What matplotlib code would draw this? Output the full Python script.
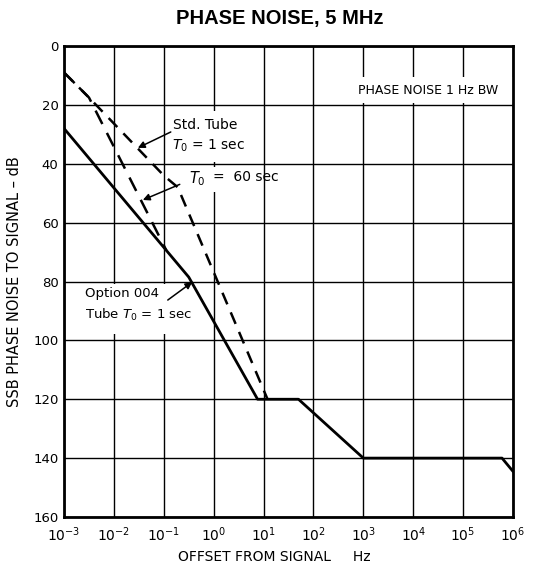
import matplotlib
matplotlib.use("Agg")
import matplotlib.pyplot as plt
from matplotlib.patches import Rectangle

plt.rcParams['font.family'] = ['DejaVu Sans']

# offsets in log10(Hz), noise in dB below carrier
opt004_logf = [-3, -0.5, 0.88, 1.7, 3, 5.78, 6]
opt004_db = [28, 78.5, 120, 120, 140, 140, 144.5]

std_logf = [-3, -2.5, -1, -0.72, 1.08]
std_db = [9, 17.5, 44, 48, 120]

t60_logf = [-3, -2.5, -0.95]
t60_db = [9, 17.5, 69.4]

y_ticks = [0, 20, 40, 60, 80, 100, 120, 140, 160]
x_decades = list(range(-3, 7))


def hz(logs):
    return [10.0 ** v for v in logs]


fig = plt.figure(figsize=(5.38, 5.71), dpi=100)
ax = fig.add_axes([0.119, 0.0946, 0.8345, 0.8248])

ax.set_xscale('log')
ax.set_xlim(1e-3, 1e6)
ax.set_ylim(160, 0)
ax.set_xticks(hz(x_decades))
ax.xaxis.set_minor_locator(matplotlib.ticker.NullLocator())
ax.set_yticks(y_ticks)
ax.grid(True, color='black', lw=1.0)
ax.tick_params(axis='y', length=0, labelsize=9.5, pad=4)
ax.tick_params(axis='x', length=0, labelsize=10, pad=6)
for sp in ax.spines.values():
    sp.set_linewidth(2)

# white label boxes hiding the grid
for (x0, x1, y0, y1) in [(2.5, 6, 10.5, 19.3), (-0.9, 0.6, 22, 39.3),
                         (-0.6, 0.9, 41, 49.5), (-2.65, -0.65, 80.7, 98)]:
    ax.add_patch(Rectangle((10 ** x0, y0), 10 ** x1 - 10 ** x0, y1 - y0,
                           facecolor='white', edgecolor='none', zorder=1.7))

ax.plot(hz(opt004_logf), opt004_db, color='black', lw=2, zorder=3)
ax.plot(hz(std_logf), std_db, color='black', lw=1.8, dashes=(5, 3.5), zorder=3)
ax.plot(hz(t60_logf), t60_db, color='black', lw=1.8, dashes=(6, 4), zorder=3)

ax.text(10 ** 4.29, 15, 'PHASE NOISE 1 Hz BW', fontsize=9, ha='center',
        va='center', zorder=4)
ax.text(10 ** -0.82, 27, 'Std. Tube', fontsize=10, ha='left', va='center', zorder=4)
ax.text(10 ** -0.84, 34, '$T_0$ = 1 sec', fontsize=10, ha='left', va='center', zorder=4)
ax.text(10 ** -0.5, 45, '$T_0$', fontsize=10.5, ha='left', va='center', zorder=4)
ax.text(10 ** -0.02, 44.5, '=  60 sec', fontsize=10, ha='left', va='center', zorder=4)
ax.text(10 ** -2.58, 84, 'Option 004', fontsize=9.5, ha='left', va='center', zorder=4)
ax.text(10 ** -2.58, 91.5, 'Tube $T_0$ = 1 sec', fontsize=9.5, ha='left',
        va='center', zorder=4)

arrow = dict(arrowstyle='-|>', color='black', lw=1.1, mutation_scale=10,
             shrinkA=0, shrinkB=0)
ax.annotate('', xy=(10 ** -1.52, 34.6), xytext=(10 ** -0.86, 29.2),
            arrowprops=arrow, zorder=4)
ax.annotate('', xy=(10 ** -1.42, 52.3), xytext=(10 ** -0.68, 47),
            arrowprops=arrow, zorder=4)
ax.annotate('', xy=(10 ** -0.43, 80.2), xytext=(10 ** -0.92, 86.3),
            arrowprops=arrow, zorder=4)

ax.set_ylabel('SSB PHASE NOISE TO SIGNAL \u2013 dB', fontsize=10.5, labelpad=8)
fig.text(0.51, 0.024, 'OFFSET FROM SIGNAL     Hz', fontsize=10,
         ha='center', va='center')
fig.suptitle('PHASE NOISE, 5 MHz', fontsize=14.5, fontweight='bold',
             family='Liberation Sans', x=0.52, y=0.985)

fig.savefig('out.png', dpi=100)
